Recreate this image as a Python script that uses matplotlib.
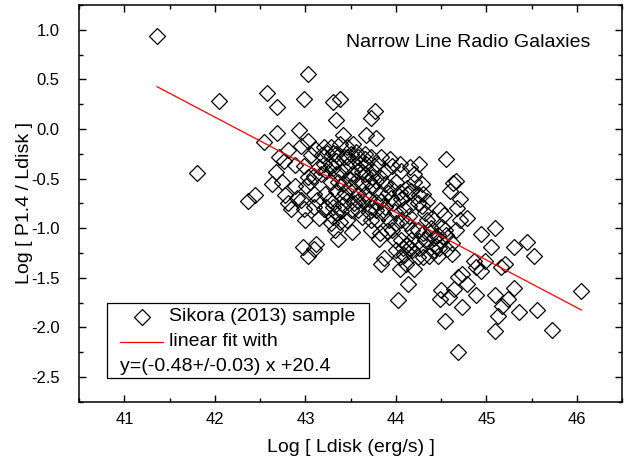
import matplotlib
matplotlib.use("Agg")
import matplotlib.pyplot as plt
from matplotlib.patches import Rectangle
from matplotlib.lines import Line2D

plt.rcParams['font.family'] = ['Liberation Sans', 'DejaVu Sans']
plt.rcParams['axes.unicode_minus'] = False

# Sikora (2013) sample
log_ldisk = [
    41.36, 41.80, 42.05, 42.36, 42.44, 42.54, 42.58, 42.69, 42.69, 42.93,
    43.03, 42.98, 43.30, 43.38, 43.34, 43.77, 43.73, 43.67, 43.78, 43.42,
    44.55, 44.26, 44.66, 44.63, 44.60, 44.71, 44.67, 44.71, 44.79, 44.66,
    44.49, 44.53, 44.40, 44.94, 45.09, 45.05, 45.30, 45.45, 45.53, 45.21,
    45.16, 44.98, 44.86, 44.88, 44.94, 45.31, 45.09, 45.24, 45.17, 45.13,
    45.36, 45.56, 46.05, 45.72, 45.09, 44.69, 44.54, 44.73, 44.88, 44.64,
    44.50, 44.49, 44.59, 44.73, 44.69, 44.78, 44.13, 44.02, 44.05, 44.20,
    43.84, 43.87, 42.97, 43.03, 43.09, 43.12, 43.36, 43.51, 43.33, 43.15,
    43.00, 42.98, 43.09, 42.84, 42.91, 42.77, 42.88, 42.74, 42.63, 42.67,
    43.01, 43.03, 43.09, 42.98, 42.88, 42.76, 42.71, 42.81, 42.95, 43.03,
    43.06, 43.11, 43.18, 43.21, 43.28, 43.30, 43.38, 43.46, 43.53, 43.50,
    43.43, 43.34, 43.28, 43.34, 43.28, 43.34, 43.27, 43.23, 43.20, 43.30,
    43.34, 43.39, 43.46, 43.44, 43.50, 43.56, 43.52, 43.58, 43.62, 43.67,
    43.73, 43.66, 43.79, 43.75, 43.82, 43.70, 43.62, 43.58, 43.66, 43.70,
    43.74, 43.82, 43.84, 43.78, 43.72, 43.70, 43.62, 43.73, 43.79, 43.73,
    43.82, 43.81, 43.90, 43.96, 44.00, 44.00, 44.06, 44.04, 44.09, 44.14,
    44.18, 44.26, 44.24, 44.30, 44.36, 44.42, 44.46, 44.42, 44.39, 44.50,
    44.55, 44.51, 44.62, 44.62, 44.17, 44.18, 44.12, 44.15, 44.09, 44.15,
    44.06, 44.17, 44.20, 44.29, 44.26, 44.29, 44.24, 44.00, 44.05, 43.95,
    43.99, 43.96, 43.94, 44.06, 44.04, 44.16, 44.20, 42.81, 42.95, 43.05,
    43.17, 43.23, 43.15, 43.30, 43.36, 43.42, 43.40, 43.46, 43.52, 43.58,
    43.60, 43.56, 43.66, 43.78, 43.88, 43.88, 43.84, 43.42, 43.50, 43.54,
    43.58, 43.46, 43.38, 43.30, 43.28, 44.32, 44.34, 44.30, 44.24, 44.32,
    44.26, 44.46, 44.44, 44.56, 44.48, 44.11, 43.99, 43.92, 43.86, 43.88,
    43.91, 43.95, 44.12, 44.12, 44.30, 44.34, 43.20, 43.24, 43.34, 43.46,
    43.22, 43.09, 43.13, 43.40, 43.48, 43.66, 43.74, 43.64, 43.58, 43.78,
    44.06, 44.38, 44.54, 44.08, 44.12, 43.97,
]
log_ratio = [
    0.94, -0.44, 0.28, -0.72, -0.66, -0.13, 0.36, 0.22, -0.04, -0.01,
    0.56, 0.30, 0.27, 0.30, 0.09, 0.18, 0.11, -0.06, -0.09, -0.06,
    -0.30, -0.35, -0.52, -0.54, -0.62, -0.70, -0.80, -0.92, -0.90, -1.02,
    -0.82, -0.87, -0.90, -1.06, -1.00, -1.19, -1.19, -1.14, -1.28, -1.36,
    -1.39, -1.33, -1.33, -1.39, -1.43, -1.60, -1.67, -1.71, -1.78, -1.88,
    -1.84, -1.82, -1.63, -2.03, -2.04, -2.25, -1.93, -1.79, -1.67, -1.61,
    -1.62, -1.71, -1.69, -1.46, -1.49, -1.56, -1.56, -1.72, -1.41, -1.41,
    -1.36, -1.30, -1.19, -1.28, -1.21, -1.16, -1.11, -1.04, -1.02, -0.90,
    -0.92, -0.81, -0.79, -0.81, -0.69, -0.66, -0.57, -0.53, -0.55, -0.43,
    -0.57, -0.48, -0.47, -0.37, -0.36, -0.32, -0.28, -0.21, -0.17, -0.12,
    -0.26, -0.20, -0.26, -0.35, -0.18, -0.24, -0.15, -0.18, -0.15, -0.25,
    -0.28, -0.32, -0.36, -0.45, -0.53, -0.62, -0.71, -0.79, -0.81, -0.79,
    -0.85, -0.83, -0.72, -0.64, -0.58, -0.52, -0.45, -0.42, -0.43, -0.35,
    -0.28, -0.30, -0.35, -0.42, -0.48, -0.52, -0.55, -0.65, -0.65, -0.70,
    -0.58, -0.64, -0.72, -0.73, -0.79, -0.84, -0.89, -0.92, -0.92, -1.02,
    -1.05, -1.11, -1.03, -1.02, -0.95, -1.22, -1.12, -1.29, -1.27, -1.20,
    -1.22, -1.20, -1.29, -1.29, -1.28, -1.22, -1.28, -1.10, -1.00, -1.13,
    -1.07, -0.99, -1.15, -1.26, -1.12, -1.02, -0.95, -0.88, -0.81, -0.78,
    -0.70, -0.62, -0.53, -0.55, -0.66, -0.78, -0.75, -0.53, -0.63, -0.69,
    -0.84, -0.37, -0.30, -0.42, -0.35, -0.38, -0.45, -0.75, -0.71, -0.53,
    -0.45, -0.42, -0.38, -0.39, -0.53, -0.55, -0.43, -0.37, -0.32, -0.28,
    -0.35, -0.23, -0.25, -0.52, -0.55, -0.42, -0.28, -0.77, -0.82, -0.75,
    -0.72, -0.92, -0.94, -0.89, -0.95, -0.85, -0.92, -1.05, -1.02, -1.12,
    -1.13, -1.07, -1.18, -1.21, -1.20, -1.36, -1.12, -0.92, -0.85, -0.79,
    -0.64, -0.59, -0.59, -0.65, -0.65, -0.72, -0.18, -0.24, -0.25, -0.28,
    -0.65, -0.65, -0.71, -0.68, -0.50, -0.45, -0.48, -0.72, -0.82, -0.82,
    -0.92, -1.05, -1.02, -1.20, -1.17, -0.75,
]

# linear fit drawn in the figure
fit_slope = -0.48
fit_intercept = 20.28

fig = plt.figure(figsize=(6.24, 4.63), dpi=100)
ax = fig.add_axes([0.127, 0.132, 0.870, 0.857])

ax.plot(log_ldisk, log_ratio, linestyle='none', marker='D', markersize=8.5,
        markerfacecolor='none', markeredgecolor='black', markeredgewidth=0.9)

fx = [min(log_ldisk), max(log_ldisk)]
fy = [fit_slope * v + fit_intercept for v in fx]
ax.plot(fx, fy, color='red', linewidth=0.9)

ax.set_xlim(40.5, 46.5)
ax.set_ylim(-2.75, 1.25)
ax.set_xticks([41, 42, 43, 44, 45, 46])
ax.set_xticks([40.5 + 0.5 * i for i in range(13)], minor=True)
ax.set_yticks([-2.5, -2.0, -1.5, -1.0, -0.5, 0.0, 0.5, 1.0])
ax.set_yticks([-2.75 + 0.25 * i for i in range(17)], minor=True)
ax.set_yticklabels(['%.1f' % v for v in ax.get_yticks()])

ax.tick_params(which='both', direction='in', top=True, right=True,
               labelsize=12, width=1.0)
ax.tick_params(which='major', length=5)
ax.tick_params(which='minor', length=3)
ax.tick_params(axis='x', pad=7)
ax.tick_params(axis='y', pad=14)
for s in ax.spines.values():
    s.set_linewidth(1.1)

ax.set_xlabel('Log [ Ldisk (erg/s) ]', fontsize=14, labelpad=9)
ax.set_ylabel('Log [ P1.4 / Ldisk ]', fontsize=14, labelpad=-1)

ax.text(46.15, 0.87, 'Narrow Line Radio Galaxies', fontsize=14,
        ha='right', va='center')

# legend box drawn by hand
ax.add_patch(Rectangle((0.0516, 0.060), 0.482, 0.189, transform=ax.transAxes,
                       facecolor='white', edgecolor='black', linewidth=0.9,
                       zorder=5))
ax.add_line(Line2D([0.115], [0.214], transform=ax.transAxes, marker='D',
                   markersize=8.5, markerfacecolor='none',
                   markeredgecolor='black', markeredgewidth=0.9, zorder=6))
ax.add_line(Line2D([0.0755, 0.155], [0.152, 0.152], transform=ax.transAxes,
                   color='red', linewidth=0.9, zorder=6))
ax.text(0.166, 0.214, 'Sikora (2013) sample', transform=ax.transAxes,
        fontsize=14, va='center', zorder=7)
ax.text(0.166, 0.152, 'linear fit with', transform=ax.transAxes,
        fontsize=14, va='center', zorder=7)
ax.text(0.0755, 0.088, 'y=(-0.48+/-0.03) x +20.4', transform=ax.transAxes,
        fontsize=14, va='center', zorder=7)

fig.savefig('out.png', dpi=100)
